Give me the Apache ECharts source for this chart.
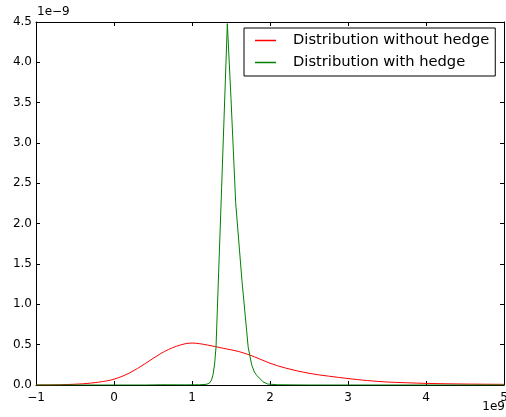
<!DOCTYPE html>
<html>
<head>
<meta charset="utf-8">
<script src="https://cdn.jsdelivr.net/npm/echarts@6/dist/echarts.min.js"></script>
<style>
html, body { margin: 0; padding: 0; background: #fff; }
#chart { width: 506px; height: 417px; }
</style>
</head>
<body>
<div id="chart"></div>
<script>
// x in units of 1e9, y in units of 1e-9
var noHedge = [
    [-1, 0], [-0.8, 0.001], [-0.6, 0.006], [-0.4, 0.015], [-0.2, 0.035],
    [0, 0.072], [0.2, 0.15], [0.4, 0.265], [0.6, 0.39],
    [0.8, 0.48], [1.0, 0.52], [1.2, 0.495],
    [1.4, 0.455], [1.6, 0.415], [1.8, 0.35], [2.0, 0.27],
    [2.2, 0.21], [2.5, 0.145], [2.75, 0.11], [3.0, 0.08], [3.25, 0.055],
    [3.5, 0.037], [3.75, 0.028], [4.0, 0.02], [4.5, 0.012], [5.0, 0.008]
];
var withHedge = [
    [-1, 0], [0.4, 0], [0.6, 0.003], [0.9, 0.002], [1.1, 0.003],
    [1.18, 0.008], [1.22, 0.02], [1.25, 0.06], [1.27, 0.13], [1.29, 0.26],
    [1.308, 0.47], [1.38, 2.45], [1.453, 4.48], [1.5, 3.55], [1.56, 2.26],
    [1.64, 1.3], [1.7, 0.68], [1.72, 0.47], [1.765, 0.25], [1.8, 0.16],
    [1.83, 0.12], [1.91, 0.04], [1.97, 0.012], [2.1, 0.003], [2.5, 0], [5, 0]
];
var seriesNames = ['Distribution without hedge', 'Distribution with hedge'];
var seriesColors = ['#ff0000', '#008000'];

var font = 'DejaVu Sans';
var chart = echarts.init(document.getElementById('chart'));

function axisBase(pos) {
    return {
        type: 'value',
        position: pos,
        axisLine: { show: true, onZero: false, lineStyle: { color: '#000', width: 1 } },
        axisTick: { show: true, inside: true, length: 4, lineStyle: { color: '#000' } },
        splitLine: { show: false }
    };
}

var xBottom = axisBase('bottom');
xBottom.min = -1; xBottom.max = 5; xBottom.interval = 1;
xBottom.axisLabel = {
    color: '#000', fontFamily: font, fontSize: 12, margin: 7,
    formatter: function (v) { return v < 0 ? '\u2212' + Math.abs(v) : String(v); }
};
var xTop = axisBase('top');
xTop.min = -1; xTop.max = 5; xTop.interval = 1;
xTop.axisLabel = { show: false };

var yLeft = axisBase('left');
yLeft.min = 0; yLeft.max = 4.5; yLeft.interval = 0.5;
yLeft.axisLabel = {
    color: '#000', fontFamily: font, fontSize: 12, margin: 4,
    formatter: function (v) { return v.toFixed(1); }
};
var yRight = axisBase('right');
yRight.min = 0; yRight.max = 4.5; yRight.interval = 0.5;
yRight.axisLabel = { show: false };

chart.setOption({
    backgroundColor: '#fff',
    animation: false,
    grid: { left: 36, right: 2, top: 22, bottom: 32, outerBoundsMode: 'none', containLabel: false },
    xAxis: [xBottom, xTop],
    yAxis: [yLeft, yRight],
    legend: {
        orient: 'vertical',
        left: 244,
        top: 28,
        padding: [5, 6, 6, 11],
        itemGap: 7,
        itemWidth: 21,
        itemHeight: 1.5,
        icon: 'rect',
        borderColor: '#000',
        borderWidth: 1,
        backgroundColor: '#fff',
        textStyle: { fontFamily: font, fontSize: 14.7, color: '#000', padding: [0, 0, 0, 12] },
        data: seriesNames
    },
    graphic: [
        { type: 'text', left: 37, top: 6, style: { text: '1e\u22129', font: '12px "DejaVu Sans"', fill: '#000' } },
        { type: 'text', right: 1, top: 401, style: { text: '1e9', font: '12px "DejaVu Sans"', fill: '#000' } }
    ],
    series: [
        {
            name: seriesNames[0], type: 'line', data: noHedge,
            symbol: 'none', smooth: 0.35,
            lineStyle: { color: seriesColors[0], width: 1 },
            itemStyle: { color: seriesColors[0] }
        },
        {
            name: seriesNames[1], type: 'line', data: withHedge,
            symbol: 'none', smooth: false,
            lineStyle: { color: seriesColors[1], width: 1 },
            itemStyle: { color: seriesColors[1] }
        }
    ]
});
</script>
</body>
</html>
